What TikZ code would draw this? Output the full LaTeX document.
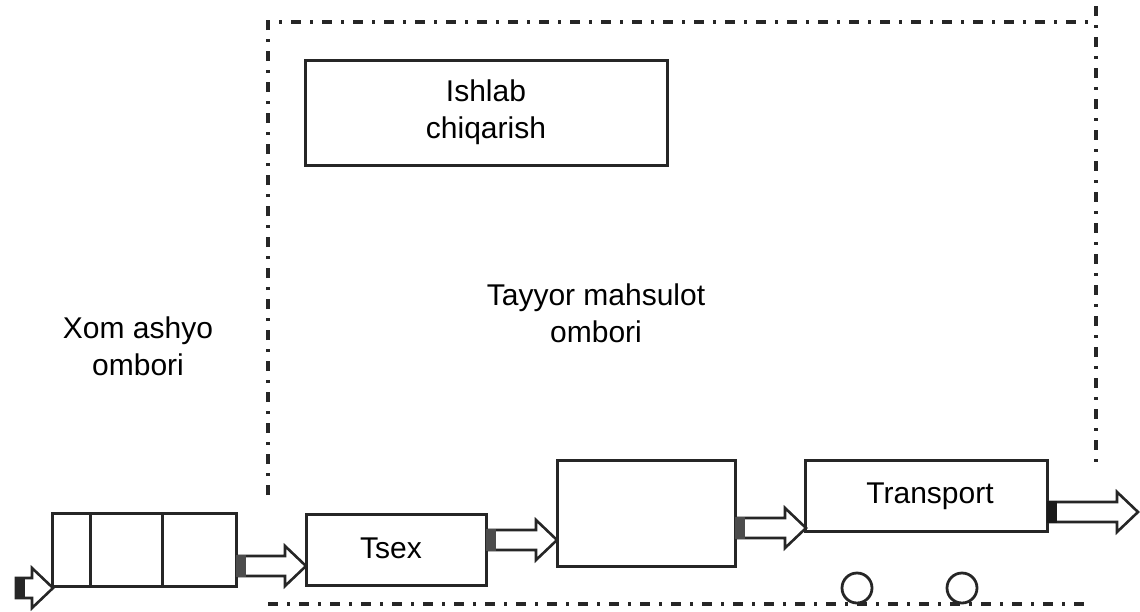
\documentclass[tikz,border=0pt]{standalone}
\usepackage{fontspec}
\setmainfont{Liberation Sans}
\begin{document}
\begin{tikzpicture}[x=1pt,y=-1pt,
  box/.style={draw=black!85,line width=3pt,rectangle,inner sep=0pt,align=center,font=\fontsize{30}{37}\selectfont},
  lbl/.style={align=center,inner sep=0pt,font=\fontsize{30}{37}\selectfont},
  border/.style={line width=3.6pt,black!85,dash pattern=on 10pt off 9pt on 3pt off 9pt},
  harrow/.style={draw=black!85,line width=2.6pt,fill=white,line join=miter},
  wheel/.style={draw=black!85,line width=2.8pt,circle,inner sep=0pt,minimum size=30pt}]
\useasboundingbox (0,0) rectangle (1140,611);
% dashed enclosure
\coordinate (tl) at (268,22);
\coordinate (tr) at (1096,22);
\coordinate (trt) at (1096,6);
\coordinate (rb) at (1096,470);
\coordinate (lb) at (268,495);
\coordinate (bl) at (268,604);
\coordinate (br) at (1085,604);
\draw[border] (lb) -- (tl) -- (tr);
\draw[border] (trt) -- (rb);
\draw[border] (bl) -- (br);
% boxes
\node[box,minimum width=362pt,minimum height=105pt] (prod) at (486,112.5) {Ishlab\\chiqarish};
\node[box,minimum width=184pt,minimum height=73pt] (raw) at (144,549.5) {};
\draw[black!85,line width=3pt] (90,513) -- (90,586) (162,513) -- (162,586);
\node[box,minimum width=180pt,minimum height=71pt] (tsex) at (396,549.5) {};
\node[lbl] (tsext) at (391,548) {Tsex};
\node[box,minimum width=178pt,minimum height=106pt] (mid) at (646,513) {};
\node[box,minimum width=242pt,minimum height=71pt] (trans) at (926,495.5) {};
\node[lbl] (transt) at (930,496) {Transport};
\node[wheel] (w1) at (857,588) {};
\node[wheel] (w2) at (962,588) {};
% labels
\node[lbl] (xom) at (138,346) {Xom ashyo\\ombori};
\node[lbl] (tayyor) at (596,313) {Tayyor mahsulot\\ombori};
% hollow arrows: tail block, shaft, head
\newcommand\hollowarrow[4]{% x1, x2, yc, block colour
  \draw[harrow] (#1,#3-10) -- (#2-21,#3-10) -- (#2-21,#3-20) -- (#2,#3) -- (#2-21,#3+20) -- (#2-21,#3+10) -- (#1,#3+10) -- cycle;
  \fill[#4] (#1-1,#3-11) rectangle (#1+9,#3+11);
}
\hollowarrow{16}{53}{588}{black!85}
\hollowarrow{237}{306}{566}{black!70}
\hollowarrow{487}{557}{540}{black!70}
\hollowarrow{736}{806}{528}{black!70}
\hollowarrow{1048}{1138}{512}{black!90}
\end{tikzpicture}
\end{document}
